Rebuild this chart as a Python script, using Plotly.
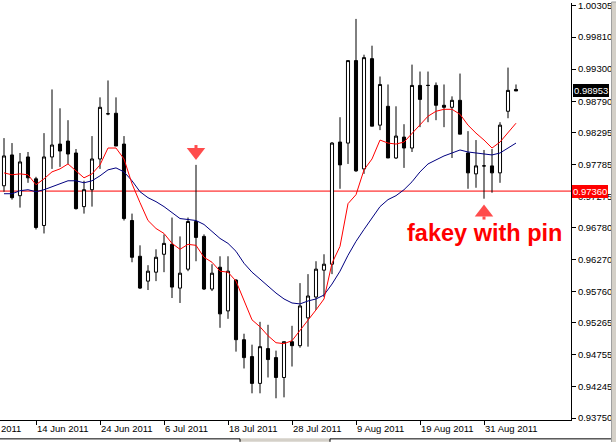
import plotly.graph_objects as go
import pandas as pd

# ---------------- data ----------------
dates = [d.strftime('%Y-%m-%d') for d in pd.bdate_range('2011-06-08', periods=65)]

opens = [0.97445, 0.97935, 0.97287, 0.97903, 0.97555, 0.96813, 0.97903, 0.98108, 0.98156, 0.97966,
         0.97113, 0.97382, 0.97871, 0.98590, 0.98598, 0.98108, 0.96892, 0.96323, 0.95928, 0.96070,
         0.96355, 0.96513, 0.95817, 0.96118, 0.96876, 0.96639, 0.95802, 0.96149, 0.95454, 0.95944,
         0.94996, 0.94727, 0.94301, 0.94854, 0.94711, 0.94395, 0.94964, 0.94901, 0.95343, 0.95675,
         0.96102, 0.96197, 0.98140, 0.98124, 0.99436, 0.97713, 0.99467, 0.98409, 0.98709, 0.97887,
         0.98219, 0.98045, 0.99041, 0.99041, 0.99041, 0.98725, 0.98693, 0.98804, 0.97966, 0.97634,
         0.97761, 0.97761, 0.97650, 0.98630, 0.98977]

highs = [0.98203, 0.98124, 0.97966, 0.97982, 0.97587, 0.98282, 0.98977, 0.98677, 0.98488, 0.98029,
         0.97524, 0.98235, 0.98851, 0.99120, 0.98851, 0.98235, 0.97002, 0.96497, 0.96181, 0.96434,
         0.96671, 0.96939, 0.96639, 0.96939, 0.97777, 0.96671, 0.96197, 0.96323, 0.96323, 0.95960,
         0.95091, 0.94917, 0.95280, 0.95233, 0.94822, 0.94964, 0.95217, 0.95896, 0.96039, 0.96244,
         0.96355, 0.98140, 0.98535, 0.99436, 1.00099, 0.99530, 0.99673, 0.99183, 0.99056, 0.98709,
         0.98424, 0.99372, 0.99262, 0.99262, 0.99088, 0.99056, 0.98867, 0.99230, 0.98314, 0.98172,
         0.98014, 0.98029, 0.98456, 0.99325, 0.99056]

lows = [0.97350, 0.97224, 0.97097, 0.97492, 0.96750, 0.96686, 0.97713, 0.97745, 0.97792, 0.97066,
        0.97002, 0.97113, 0.97713, 0.98567, 0.98077, 0.96892, 0.96228, 0.95802, 0.95786, 0.95928,
        0.96070, 0.95659, 0.95580, 0.96086, 0.96244, 0.95786, 0.95770, 0.95185, 0.95328, 0.94806,
        0.94538, 0.94143, 0.94143, 0.94395, 0.94064, 0.94079, 0.94569, 0.94869, 0.94885, 0.95470,
        0.95675, 0.96039, 0.97397, 0.97792, 0.97666, 0.97634, 0.98393, 0.98330, 0.97887, 0.97871,
        0.97729, 0.97982, 0.98377, 0.98456, 0.98488, 0.98377, 0.97887, 0.98266, 0.97397, 0.97413,
        0.97239, 0.97334, 0.97492, 0.98519, 0.98953]

closes = [0.97919, 0.97255, 0.97824, 0.97571, 0.96781, 0.97903, 0.98093, 0.97998, 0.97950, 0.97081,
          0.97382, 0.97871, 0.98693, 0.98590, 0.98077, 0.96923, 0.96307, 0.95817, 0.96086, 0.96307,
          0.96528, 0.95833, 0.96054, 0.96876, 0.96623, 0.95802, 0.96054, 0.95407, 0.96086, 0.94996,
          0.94711, 0.94301, 0.94885, 0.94680, 0.94395, 0.94964, 0.94901, 0.95533, 0.95691, 0.96118,
          0.96197, 0.98124, 0.97777, 0.99436, 0.97682, 0.99483, 0.98393, 0.99056, 0.97887, 0.98235,
          0.98045, 0.99041, 0.98819, 0.99041, 0.98725, 0.98693, 0.98804, 0.98266, 0.97650, 0.97761,
          0.97761, 0.97650, 0.98409, 0.98962, 0.98953]

ma_fast = [0.97650, 0.97619, 0.97634, 0.97619, 0.97461, 0.97555, 0.97666, 0.97713, 0.97792, 0.97682,
           0.97571, 0.97634, 0.97777, 0.98045, 0.98045, 0.97871, 0.97476, 0.97176, 0.96892, 0.96765,
           0.96686, 0.96528, 0.96434, 0.96513, 0.96497, 0.96307, 0.96228, 0.96086, 0.96070, 0.95928,
           0.95612, 0.95312, 0.95201, 0.95059, 0.94948, 0.94933, 0.94980, 0.95138, 0.95312, 0.95470,
           0.95644, 0.96212, 0.96481, 0.97160, 0.97303, 0.97698, 0.97871, 0.98172, 0.98124, 0.98108,
           0.98140, 0.98282, 0.98424, 0.98551, 0.98630, 0.98661, 0.98661, 0.98582, 0.98409, 0.98282,
           0.98172, 0.98045, 0.98140, 0.98282, 0.98440]

ma_slow = [0.97318, 0.97318, 0.97366, 0.97382, 0.97350, 0.97382, 0.97429, 0.97476, 0.97524, 0.97524,
           0.97492, 0.97524, 0.97603, 0.97698, 0.97729, 0.97666, 0.97524, 0.97350, 0.97255, 0.97192,
           0.97113, 0.97018, 0.96923, 0.96908, 0.96892, 0.96829, 0.96718, 0.96607, 0.96528, 0.96402,
           0.96212, 0.96070, 0.95960, 0.95849, 0.95738, 0.95644, 0.95580, 0.95565, 0.95612, 0.95644,
           0.95707, 0.95881, 0.96086, 0.96339, 0.96560, 0.96750, 0.96939, 0.97113, 0.97224, 0.97287,
           0.97382, 0.97508, 0.97666, 0.97792, 0.97856, 0.97919, 0.97966, 0.98014, 0.97982, 0.97966,
           0.97950, 0.97935, 0.97966, 0.98045, 0.98124]

tick_dates = ['2011-06-14', '2011-06-24', '2011-07-06', '2011-07-18',
              '2011-07-28', '2011-08-09', '2011-08-19', '2011-08-31']
tick_labels = ['14 Jun 2011', '24 Jun 2011', '6 Jul 2011', '18 Jul 2011',
               '28 Jul 2011', '9 Aug 2011', '19 Aug 2011', '31 Aug 2011']
first_label = '2 Jun 2011'   # label of the bar 4 trading days before the first visible one
first_label_pos = -4

price_ticks = [0.93750, 0.94245, 0.94755, 0.95265, 0.95760, 0.96270, 0.96780,
               0.97275, 0.97785, 0.98295, 0.98790, 0.99300, 0.99810, 1.00305]

current_price = 0.98953
level_price = 0.97360
pin_date = '2011-07-12'
fakey_date = '2011-08-31'
note_text = 'fakey with pin'

# ---------------- figure ----------------
FONT = 'Liberation Sans'
RED = '#FF0000'
NAVY = '#000080'
XRANGE = [-0.5, 70.875]

fig = go.Figure()

fig.add_trace(go.Candlestick(
    x=dates, open=opens, high=highs, low=lows, close=closes,
    increasing=dict(line=dict(color='black', width=1), fillcolor='white'),
    decreasing=dict(line=dict(color='black', width=1), fillcolor='black'),
    whiskerwidth=0, showlegend=False, hoverinfo='skip'))

fig.add_trace(go.Scatter(x=dates, y=ma_slow, mode='lines',
                         line=dict(color=NAVY, width=1), showlegend=False, hoverinfo='skip'))
fig.add_trace(go.Scatter(x=dates, y=ma_fast, mode='lines',
                         line=dict(color=RED, width=1), showlegend=False, hoverinfo='skip'))

# arrows (positioned from the bars they mark)
pin_i = dates.index(pin_date)
fk_i = dates.index(fakey_date)
fig.add_trace(go.Scatter(
    x=[pin_date, pin_date], y=[highs[pin_i] + 0.00205, highs[pin_i] + 0.00292],
    mode='markers', marker=dict(symbol=['triangle-down', 'square'], size=[16, 3],
                                color=RED, line=dict(width=0)),
    showlegend=False, hoverinfo='skip'))
fig.add_trace(go.Scatter(
    x=[fakey_date, fakey_date], y=[lows[fk_i] - 0.00221, lows[fk_i] - 0.00308],
    mode='markers', marker=dict(symbol=['triangle-up', 'square'], size=[16, 3],
                                color=RED, line=dict(width=0)),
    showlegend=False, hoverinfo='skip'))

# horizontal level line
fig.add_shape(type='line', xref='paper', x0=0, x1=1, yref='y', y0=level_price, y1=level_price,
              line=dict(color=RED, width=1), layer='below')

first_paper_x = (first_label_pos - XRANGE[0]) / (XRANGE[1] - XRANGE[0])

annotations = [
    dict(x=fk_i, y=0.96686, xref='x', yref='y', text=note_text, showarrow=False,
         xanchor='center', yanchor='middle',
         font=dict(family=FONT, size=23.5, color=RED, weight='bold')),
    dict(x=1, xref='paper', xanchor='left', xshift=2, y=current_price, yref='y',
         yanchor='middle', text=f'{current_price:.5f}', showarrow=False,
         bgcolor='black', borderpad=1, borderwidth=0,
         font=dict(family=FONT, size=9.5, color='white')),
    dict(x=1, xref='paper', xanchor='left', xshift=1, y=level_price, yref='y',
         yanchor='middle', text=f'{level_price:.5f}', showarrow=False,
         bgcolor=RED, borderpad=1, borderwidth=0,
         font=dict(family=FONT, size=9.5, color='white')),
    dict(x=first_paper_x, xref='paper', xanchor='left', xshift=1, y=-0.0215, yref='paper',
         yanchor='middle', text=first_label, showarrow=False,
         font=dict(family=FONT, size=9.5, color='black')),
]

# window chrome (bottom tab strip and right border)
W, H = 571.0, 420.0
def px(v):
    return v / W
def py(v):
    return (H - v) / H

shapes = [
    dict(type='rect', xref='paper', yref='paper', x0=px(240), x1=px(330), y0=py(442), y1=py(438.5),
         fillcolor='#D4D0C8', line=dict(width=0)),
    dict(type='line', xref='paper', yref='paper', x0=0, x1=px(240), y0=py(439), y1=py(439),
         line=dict(color='black', width=1)),
    dict(type='line', xref='paper', yref='paper', x0=px(240), x1=px(240), y0=py(439), y1=py(442),
         line=dict(color='black', width=1)),
    dict(type='line', xref='paper', yref='paper', x0=px(330), x1=px(611), y0=py(439), y1=py(439),
         line=dict(color='black', width=1)),
    dict(type='line', xref='paper', yref='paper', x0=px(330), x1=px(330), y0=py(439), y1=py(442),
         line=dict(color='black', width=1)),
    dict(type='rect', xref='paper', yref='paper', x0=px(611.5), x1=px(617), y0=py(443), y1=py(-1),
         fillcolor='#D4D0C8', line=dict(color='#A0A0A0', width=1)),
]

fig.update_layout(
    width=616, height=442,
    margin=dict(l=0, r=45, t=0, b=22, pad=0),
    paper_bgcolor='white', plot_bgcolor='white',
    boxgap=0.45,
    showlegend=False,
    annotations=annotations,
    shapes=list(fig.layout.shapes) + shapes,
    xaxis=dict(type='category', range=XRANGE, rangeslider=dict(visible=False),
               tickmode='array', tickvals=tick_dates, ticktext=tick_labels,
               ticks='outside', ticklen=4, tickcolor='black', ticklabelposition='outside right',
               ticklabeloverflow='allow',
               showline=True, linecolor='black', linewidth=1, mirror=False,
               showgrid=False, zeroline=False,
               tickfont=dict(family=FONT, size=9.5, color='black')),
    yaxis=dict(side='right', range=[0.937184, 1.003523],
               tickmode='array', tickvals=price_ticks,
               ticktext=[f'{v:.5f}' for v in price_ticks],
               ticks='outside', ticklen=4, tickcolor='black', ticklabeloverflow='allow',
               showline=True, linecolor='black', linewidth=1,
               showgrid=False, zeroline=False,
               tickfont=dict(family=FONT, size=9.5, color='black')),
)

fig.write_html('out.html', config={'displayModeBar': False},
               post_script="document.body.style.margin='0';")
